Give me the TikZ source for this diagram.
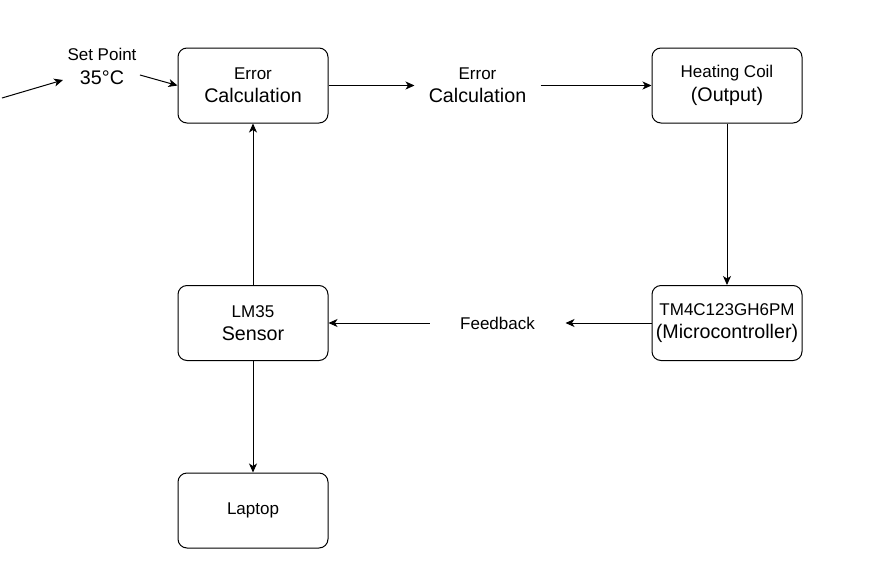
\documentclass[tikz,border=0pt]{standalone}
\usepackage{fontspec}
\setmainfont{Liberation Sans}
\usetikzlibrary{arrows.meta,positioning}
\newcommand{\smallsz}{\fontsize{17}{23.4}\selectfont}
\newcommand{\bigsz}{\fontsize{19.7}{23.4}\selectfont}

\begin{document}
\begin{tikzpicture}[x=1pt, y=-1pt,
  blk/.style={rounded corners=9pt, draw, minimum width=150pt, minimum height=75pt, align=center, font=\bigsz},
  lbl/.style={align=center, font=\bigsz}]
\tikzstyle{every path}=[line width=1pt, >={Stealth[length=9pt,width=8pt,inset=2.5pt]}];
\useasboundingbox (0,0) rectangle (871,563);
\path (253, 85.5) node (err)[blk] {{\smallsz Error}\\Calculation}
(477.5, 85.5) node (calc)[lbl, minimum width=125pt] {{\smallsz Error}\\Calculation}
(727, 85.5) node (coil)[blk] {{\smallsz Heating Coil}\\(Output)}
(727, 323) node (mcu)[blk, inner sep=1pt] {{\smallsz TM4C123GH6PM}\\(Microcontroller)}
(497.5, 323) node (fb)[lbl, minimum width=135pt, font=\smallsz] {Feedback}
(253, 323) node (lm)[blk] {{\smallsz LM35}\\Sensor}
(253, 510.5) node (lap)[blk, font=\smallsz] {Laptop}
(102, 66.5) node (sp)[lbl, inner sep=0pt] {{\smallsz Set Point}\\35\textdegree C};
\coordinate (src) at (2, 98);
\draw[->] (src) -- ([shift={(-4,13.5)}]sp.west);
\draw[->] ([shift={(3,8.5)}]sp.east) -- (err.west);
\draw[->] (err) -- (calc);
\draw[->] (calc) -- (coil);
\draw[->] (coil) -- (mcu);
\draw[->] (mcu) -- (fb);
\draw[->] (fb) -- (lm);
\draw[->] (lm) -- (err);
\draw[->] (lm) -- (lap);
\end{tikzpicture}
\end{document}
